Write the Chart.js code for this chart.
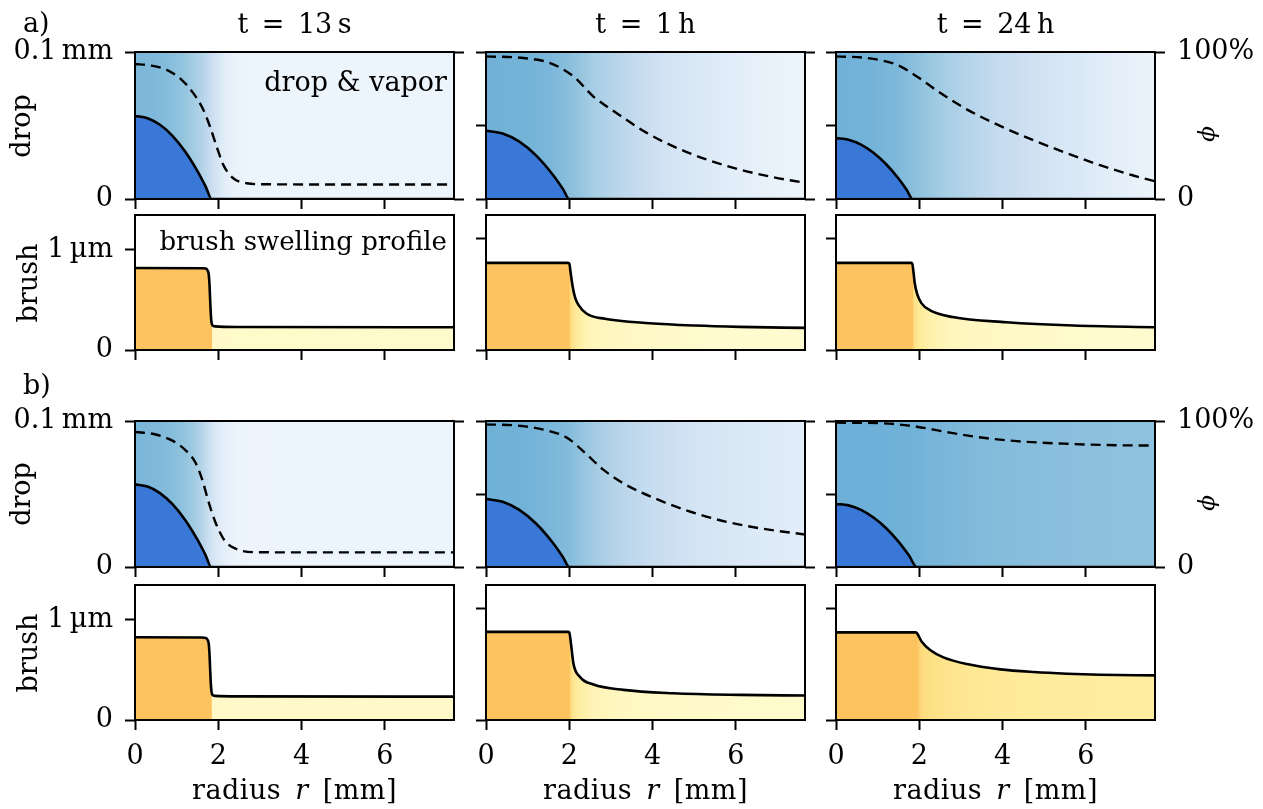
<!DOCTYPE html>
<html><head><meta charset="utf-8">
<script src="https://cdn.jsdelivr.net/npm/chart.js@4.4.1/dist/chart.umd.min.js"></script>
<style>
body{margin:0;background:#fff;}
#fig{position:relative;width:1263px;height:809px;overflow:hidden;font-family:"DejaVu Serif",serif;color:#000;background:#fff;}
#fig canvas{position:absolute;}
.t{position:absolute;font-size:27px;line-height:1;white-space:nowrap;}
</style></head><body><div id="fig"></div>
<script>
// ---------------- data ----------------
const radiusTicks = [0, 2, 4, 6];
const radiusMax = 7.66;
const timeLabels = ['t\u2002=\u200213\u2009s', 't\u2002=\u20021\u2009h', 't\u2002=\u200224\u2009h'];
const dropTicksCol1 = [0, 0.1];
const dropTicks = [0, 0.05, 0.1];
const brushTicks = [0, 1];
const phiTicks = [0, 1];
const dropMax = 0.1;          // mm
const phiMax = 1;             // 100 %
const brushMax = [1.345, 1.21, 1.21]; // µm, per column

// a) t = 13 s
const a13DropR = [0, 0.3, 0.6, 0.9, 1.2, 1.5, 1.7, 1.84, 2.5, 7.66];
const a13DropH = [0.0565, 0.0550, 0.0505, 0.0430, 0.0325, 0.0190, 0.0083, 0, 0, 0];
const a13PhiR  = [0, 0.36, 0.76, 1.12, 1.40, 1.64, 1.80, 1.96, 2.12, 2.36, 2.68, 3.16, 5.0, 7.66];
const a13Phi   = [0.918, 0.909, 0.879, 0.811, 0.720, 0.607, 0.493, 0.357, 0.232, 0.141, 0.107, 0.100, 0.099, 0.099];
const a13BrushR = [0, 1.6, 1.70, 1.74, 1.77, 1.79, 1.81, 1.83, 1.86, 1.92, 2.5, 7.66];
const a13BrushH = [0.817, 0.815, 0.811, 0.795, 0.755, 0.645, 0.445, 0.30, 0.245, 0.235, 0.229, 0.226];
// a) t = 1 h
const a1hDropR = [0, 0.4, 0.8, 1.2, 1.6, 1.85, 2.0, 7.66];
const a1hDropH = [0.0464, 0.0445, 0.0390, 0.0297, 0.0167, 0.0067, 0, 0];
const a1hPhiR  = [0, 0.9, 1.54, 2.10, 2.58, 3.14, 3.86, 4.50, 5.30, 6.10, 6.90, 7.66];
const a1hPhi   = [0.970, 0.959, 0.925, 0.834, 0.697, 0.584, 0.450, 0.358, 0.268, 0.200, 0.148, 0.110];
const a1hBrushR = [0, 1.95, 2.0, 2.03, 2.08, 2.14, 2.22, 2.42, 2.85, 3.93, 5.01, 6.09, 7.66];
const a1hBrushH = [0.781, 0.781, 0.776, 0.70, 0.57, 0.47, 0.405, 0.325, 0.280, 0.240, 0.219, 0.207, 0.198];
// a) t = 24 h
const a24DropR = [0, 0.3, 0.6, 0.9, 1.2, 1.5, 1.7, 1.84, 7.66];
const a24DropH = [0.0414, 0.0403, 0.0370, 0.0315, 0.0238, 0.0139, 0.0061, 0, 0];
const a24PhiR  = [0, 0.74, 1.46, 1.94, 2.50, 3.14, 3.94, 4.74, 5.54, 6.34, 7.14, 7.66];
const a24Phi   = [0.970, 0.959, 0.913, 0.834, 0.722, 0.610, 0.497, 0.400, 0.312, 0.230, 0.160, 0.120];
const a24BrushR = [0, 1.80, 1.83, 1.86, 1.89, 1.95, 2.05, 2.26, 2.80, 4.09, 5.70, 7.66];
const a24BrushH = [0.781, 0.781, 0.776, 0.70, 0.60, 0.50, 0.42, 0.356, 0.295, 0.249, 0.219, 0.204];
// b) t = 13 s
const b13DropR = [0, 0.3, 0.6, 0.9, 1.2, 1.5, 1.7, 1.83, 7.66];
const b13DropH = [0.0566, 0.0551, 0.0506, 0.0430, 0.0324, 0.0187, 0.0078, 0, 0];
const b13PhiR  = [0, 0.47, 0.91, 1.23, 1.45, 1.61, 1.77, 1.93, 2.15, 2.42, 2.85, 3.93, 7.66];
const b13Phi   = [0.925, 0.909, 0.864, 0.795, 0.716, 0.602, 0.443, 0.307, 0.182, 0.125, 0.102, 0.100, 0.100];
const b13BrushR = [0, 1.6, 1.70, 1.74, 1.77, 1.79, 1.81, 1.83, 1.86, 1.92, 2.5, 7.66];
const b13BrushH = [0.824, 0.822, 0.818, 0.80, 0.76, 0.65, 0.45, 0.31, 0.25, 0.240, 0.235, 0.233];
// b) t = 1 h
const b1hDropR = [0, 0.4, 0.8, 1.2, 1.6, 1.85, 2.0, 7.66];
const b1hDropH = [0.0466, 0.0447, 0.0391, 0.0298, 0.0168, 0.0067, 0, 0];
const b1hPhiR  = [0, 0.86, 1.51, 1.94, 2.37, 2.80, 3.33, 4.09, 4.95, 5.81, 6.67, 7.66];
const b1hPhi   = [0.977, 0.966, 0.932, 0.886, 0.784, 0.670, 0.568, 0.466, 0.375, 0.307, 0.261, 0.223];
const b1hBrushR = [0, 1.97, 2.0, 2.04, 2.10, 2.26, 2.58, 3.30, 4.50, 6.10, 7.66];
const b1hBrushH = [0.790, 0.790, 0.785, 0.685, 0.505, 0.384, 0.318, 0.270, 0.240, 0.225, 0.219];
// b) t = 24 h
const b24DropR = [0, 0.3, 0.6, 0.9, 1.2, 1.5, 1.75, 1.94, 7.66];
const b24DropH = [0.0432, 0.0422, 0.0391, 0.0339, 0.0267, 0.0174, 0.0080, 0, 0];
const b24PhiR  = [0, 1.14, 1.94, 2.74, 3.54, 4.34, 5.54, 6.74, 7.66];
const b24Phi   = [0.989, 0.984, 0.961, 0.920, 0.885, 0.862, 0.844, 0.834, 0.832];
const b24BrushR = [0, 1.90, 1.94, 2.06, 2.26, 2.58, 3.14, 3.95, 4.75, 5.55, 6.35, 7.66];
const b24BrushH = [0.785, 0.785, 0.78, 0.701, 0.627, 0.561, 0.501, 0.454, 0.430, 0.415, 0.406, 0.400];

// ---------------- styles / layout ----------------
const FONT = {family: '"DejaVu Serif", serif', size: 27};
const DROP_BLUE = '#3a78d8';
const ORANGE = 'rgb(253,195,95)';
const BLUES = [[0,247,251,255],[0.125,222,235,247],[0.25,198,219,239],[0.375,158,202,225],[0.5,107,174,214],[0.625,66,146,198]];
const BRUSH_CMAP = [[0.20,255,251,208],[0.30,255,246,188],[0.40,254,237,160],[0.55,254,228,140],[0.70,253,220,128]];
const W = 319;
const colLeft = [135, 486, 836];
const rowTop = [52, 215, 421, 585];
const rowH = [147, 135, 146, 135];
const PADL = 140, PADR = 110, PADT = 40, PADB = 60;

const panels = [
  {row:0,col:0,kind:'drop', dR:a13DropR, dH:a13DropH, pR:a13PhiR, p:a13Phi},
  {row:0,col:1,kind:'drop', dR:a1hDropR, dH:a1hDropH, pR:a1hPhiR, p:a1hPhi},
  {row:0,col:2,kind:'drop', dR:a24DropR, dH:a24DropH, pR:a24PhiR, p:a24Phi},
  {row:1,col:0,kind:'brush', bR:a13BrushR, bH:a13BrushH, dR:a13DropR, dH:a13DropH},
  {row:1,col:1,kind:'brush', bR:a1hBrushR, bH:a1hBrushH, dR:a1hDropR, dH:a1hDropH},
  {row:1,col:2,kind:'brush', bR:a24BrushR, bH:a24BrushH, dR:a24DropR, dH:a24DropH},
  {row:2,col:0,kind:'drop', dR:b13DropR, dH:b13DropH, pR:b13PhiR, p:b13Phi},
  {row:2,col:1,kind:'drop', dR:b1hDropR, dH:b1hDropH, pR:b1hPhiR, p:b1hPhi},
  {row:2,col:2,kind:'drop', dR:b24DropR, dH:b24DropH, pR:b24PhiR, p:b24Phi},
  {row:3,col:0,kind:'brush', bR:b13BrushR, bH:b13BrushH, dR:b13DropR, dH:b13DropH},
  {row:3,col:1,kind:'brush', bR:b1hBrushR, bH:b1hBrushH, dR:b1hDropR, dH:b1hDropH},
  {row:3,col:2,kind:'brush', bR:b24BrushR, bH:b24BrushH, dR:b24DropR, dH:b24DropH},
];

// ---------------- helpers ----------------
function cmap(stops, t){
  const c = s => `rgb(${Math.round(s[1])},${Math.round(s[2])},${Math.round(s[3])})`;
  if (t <= stops[0][0]) return c(stops[0]);
  for (let i = 1; i < stops.length; i++) {
    if (t <= stops[i][0]) {
      const a = stops[i-1], b = stops[i], f = (t - a[0]) / (b[0] - a[0]);
      return c([0, a[1]+(b[1]-a[1])*f, a[2]+(b[2]-a[2])*f, a[3]+(b[3]-a[3])*f]);
    }
  }
  return c(stops[stops.length-1]);
}
const clamp01 = v => Math.max(0, Math.min(1, v));
const pts = (xs, ys) => xs.map((x, i) => ({x, y: ys[i]}));
const dropEdge = (R, H) => { const i = H.findIndex(v => v === 0); return R[i]; };

const vaporPlugin = {
  id: 'vapor',
  beforeDatasetsDraw(chart){
    const ds = chart.data.datasets.find(d => d.label === 'phi');
    if (!ds) return;
    const {ctx, chartArea: a, scales: {x}} = chart;
    const g = ctx.createLinearGradient(a.left, 0, a.right, 0);
    ds.data.forEach(p => g.addColorStop(clamp01((x.getPixelForValue(p.x) - a.left) / (a.right - a.left)), cmap(BLUES, 0.5 * p.y)));
    ctx.save(); ctx.fillStyle = g; ctx.fillRect(a.left, a.top, a.right - a.left, a.bottom - a.top); ctx.restore();
  }
};
const framePlugin = {
  id: 'frame',
  afterDatasetsDraw(chart){
    const {ctx, chartArea: a} = chart;
    ctx.save(); ctx.strokeStyle = '#000'; ctx.lineWidth = 2;
    ctx.strokeRect(a.left, a.top, a.right - a.left, a.bottom - a.top); ctx.restore();
  }
};
function brushFill(chart, R, H, edge){
  const a = chart.chartArea, x = chart.scales.x;
  const g = chart.ctx.createLinearGradient(a.left, 0, a.right, 0);
  const add = (r, col) => g.addColorStop(clamp01((x.getPixelForValue(r) - a.left) / (a.right - a.left)), col);
  add(0, ORANGE); add(edge, ORANGE);
  R.forEach((r, i) => { if (r > edge) add(r, cmap(BRUSH_CMAP, H[i])); });
  return g;
}

const grid = {drawOnChartArea:false, drawTicks:true, tickLength:10, tickWidth:2, tickColor:'#000', color:'#000'};
function ticksCfg(show, fmt, pad){
  return {display:true, font:FONT, color:'#000', padding:pad, autoSkip:false, maxRotation:0, minRotation:0,
          callback: v => show ? fmt(v) : ''};
}

const fig = document.getElementById('fig');
function makePanel(p){
  const L = colLeft[p.col], T = rowTop[p.row], H = rowH[p.row];
  const cw = PADL + W + PADR, chh = PADT + H + PADB;
  const cv = document.createElement('canvas');
  cv.width = cw; cv.height = chh;
  cv.style.left = (L - PADL) + 'px'; cv.style.top = (T - PADT) + 'px';
  cv.style.width = cw + 'px'; cv.style.height = chh + 'px';
  fig.appendChild(cv);
  const isDrop = p.kind === 'drop';
  const lastRow = p.row === 3;
  const datasets = [];
  const scales = {
    x: {type:'linear', min:0, max:radiusMax, position:'bottom',
        afterBuildTicks: s => { s.ticks = radiusTicks.map(v => ({value:v})); },
        afterFit: s => { s.height = PADB; },
        ticks: ticksCfg(lastRow, v => String(v), 11), grid, border:{display:false}},
  };
  if (isDrop) {
    const yt = p.col === 0 ? dropTicksCol1 : dropTicks;
    scales.y = {type:'linear', min:0, max:dropMax, position:'left',
        afterBuildTicks: s => { s.ticks = yt.map(v => ({value:v})); },
        afterFit: s => { s.width = PADL; },
        ticks: ticksCfg(p.col === 0, v => v === 0 ? '0' : '0.1\u2009mm', 12), grid, border:{display:false}};
    scales.y2 = {type:'linear', min:0, max:phiMax, position:'right',
        afterBuildTicks: s => { s.ticks = phiTicks.map(v => ({value:v})); },
        afterFit: s => { s.width = PADR; },
        ticks: ticksCfg(p.col === 2, v => v === 0 ? '0' : '100%', 12), grid, border:{display:false}};
    datasets.push({label:'drop', data: pts(p.dR, p.dH), yAxisID:'y', borderColor:'#000', borderWidth:2.6,
        backgroundColor: DROP_BLUE, fill:'origin', pointRadius:0, cubicInterpolationMode:'monotone'});
    datasets.push({label:'phi', data: pts(p.pR, p.p), yAxisID:'y2', borderColor:'#000', borderWidth:2.4,
        borderDash:[10,6], fill:false, pointRadius:0, cubicInterpolationMode:'monotone'});
  } else {
    const edge = dropEdge(p.dR, p.dH);
    scales.y = {type:'linear', min:0, max:brushMax[p.col], position:'left',
        afterBuildTicks: s => { s.ticks = brushTicks.map(v => ({value:v})); },
        afterFit: s => { s.width = PADL; },
        ticks: ticksCfg(p.col === 0, v => v === 0 ? '0' : '1\u2009\u00b5m', 12), grid, border:{display:false}};
    datasets.push({label:'brush', data: pts(p.bR, p.bH), yAxisID:'y', borderColor:'#000', borderWidth:2.6,
        backgroundColor: c => c.chart.chartArea ? brushFill(c.chart, p.bR, p.bH, edge) : ORANGE,
        fill:'origin', pointRadius:0, cubicInterpolationMode:'monotone'});
  }
  new Chart(cv, {
    type:'line', data:{datasets},
    options:{responsive:false, animation:false, devicePixelRatio:1,
      layout:{padding:{top:PADT, left:0, bottom:0, right: isDrop ? 0 : PADR}},
      plugins:{legend:{display:false}, tooltip:{enabled:false}},
      scales},
    plugins:[vaporPlugin, framePlugin]
  });
}
panels.forEach(makePanel);

// ---------------- text ----------------
function addText(html, x, y, align, rot, extra){
  const d = document.createElement('div');
  d.className = 't'; d.innerHTML = html;
  d.style.left = x + 'px'; d.style.top = y + 'px';
  let tf = align === 'right' ? 'translate(-100%,-50%)' : align === 'left' ? 'translate(0,-50%)' : 'translate(-50%,-50%)';
  if (rot) tf += ` rotate(${rot}deg)`;
  d.style.transform = tf;
  if (extra) Object.assign(d.style, extra);
  fig.appendChild(d);
}
const colCenter = c => colLeft[c] + W / 2;
timeLabels.forEach((t, c) => addText(t, colCenter(c), 23, 'center'));
for (let c = 0; c < 3; c++) addText('radius\u2002<i>r</i>\u2002[mm]', colCenter(c), 789, 'center', 0, {letterSpacing:'0.5px'});
addText('a)', 23, 22, 'left');
addText('b)', 23, 384, 'left');
addText('drop', 20, rowTop[0] + rowH[0] / 2, 'center', -90);
addText('drop', 20, rowTop[2] + rowH[2] / 2, 'center', -90);
addText('brush', 27, rowTop[1] + rowH[1] / 2, 'center', -90);
addText('brush', 27, rowTop[3] + rowH[3] / 2, 'center', -90);
addText('<i>\u03d5</i>', 1206, 134, 'center', -90, {fontSize:'23px'});
addText('<i>\u03d5</i>', 1206, 503, 'center', -90, {fontSize:'23px'});
addText('drop &amp; vapor', 447, 81, 'right');
addText('brush swelling profile', 447, 241, 'right', 0, {fontSize:'26px'});
</script></body></html>
